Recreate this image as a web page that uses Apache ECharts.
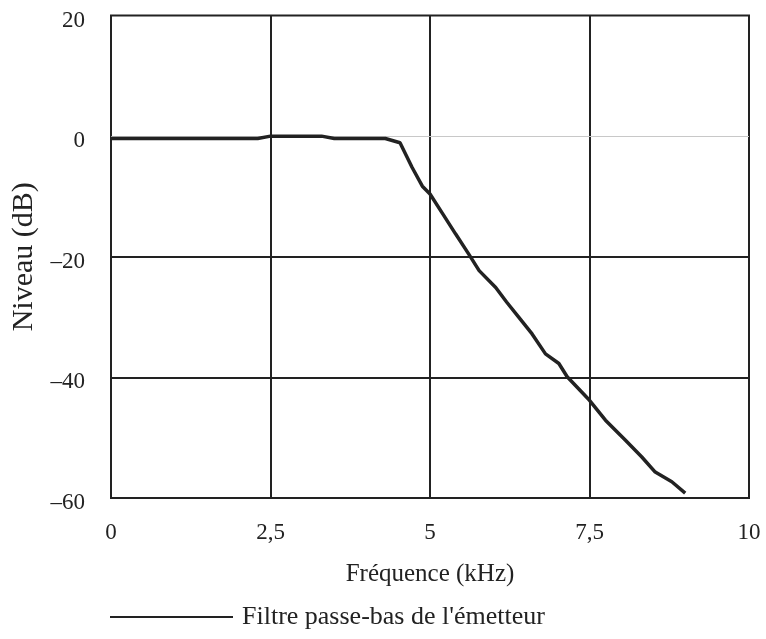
<!DOCTYPE html>
<html><head><meta charset="utf-8">
<script src="https://cdn.jsdelivr.net/npm/echarts@6/dist/echarts.min.js"></script>
<style>html,body{margin:0;padding:0;background:#fff}#c{width:766px;height:639px}</style>
</head><body><div id="c"></div>
<script>
const freq = [0, 2.3, 2.5, 3.3, 3.5, 4.3, 4.53, 4.72, 4.88, 5.0, 5.2, 5.4, 5.61, 5.77, 6.03, 6.2, 6.39, 6.6, 6.81, 7.02, 7.15, 7.5, 7.75, 8.06, 8.32, 8.53, 8.79, 9.0];
const level = [-0.4, -0.4, 0, 0, -0.4, -0.4, -1.1, -5.2, -8.3, -9.6, -12.9, -16.2, -19.6, -22.3, -25.1, -27.5, -30.0, -32.8, -36.1, -37.7, -39.9, -43.8, -47.1, -50.4, -53.2, -55.7, -57.3, -59.2];
const xTicks = ['0', '2,5', '5', '7,5', '10'];
const yTickLabels = {'20': '20', '0': '0', '-20': '–20', '-40': '–40', '-60': '–60'};
const darkLines = [-20, -40];
const grayLines = [0];
const seriesName = "Filtre passe-bas de l'émetteur";

const font = 'Liberation Serif';
const chart = echarts.init(document.getElementById('c'));
chart.setOption({
  animation: false,
  grid: {left: 111, right: 17, top: 15.5, bottom: 141, show: true, borderColor: '#222', borderWidth: 2, backgroundColor: 'transparent'},
  xAxis: {
    type: 'value', min: 0, max: 10, interval: 2.5,
    name: 'Fréquence (kHz)', nameLocation: 'middle', nameGap: 64,
    nameTextStyle: {fontFamily: font, fontSize: 25, color: '#222'},
    axisLine: {show: false}, axisTick: {show: false},
    axisLabel: {margin: 23, fontFamily: font, fontSize: 23, color: '#222',
      formatter: v => xTicks[Math.round(v / 2.5)]},
    splitLine: {show: true, lineStyle: {color: '#222', width: 2}}
  },
  yAxis: {
    type: 'value', min: -60, max: 20, interval: 20,
    name: 'Niveau (dB)', nameLocation: 'middle', nameGap: 68,
    nameTextStyle: {fontFamily: font, fontSize: 30, color: '#222'},
    axisLine: {show: false}, axisTick: {show: false},
    axisLabel: {margin: 26, fontFamily: font, fontSize: 23, color: '#222', verticalAlign: 'top', lineHeight: 10,
      formatter: v => yTickLabels[String(v)]},
    splitLine: {show: false}
  },
  legend: {
    left: 110, top: 604, padding: 0, itemWidth: 123, itemHeight: 14, icon: 'path://M0,0 L123,0 L123,2 L0,2 Z',
    data: [seriesName],
    textStyle: {fontFamily: font, fontSize: 26, color: '#222', padding: [0, 0, 0, 4]}
  },
  series: [
    {
      type: 'line', name: 'grid', silent: true, data: [], legendHoverLink: false,
      markLine: {silent: true, symbol: 'none', label: {show: false},
        data: darkLines.map(v => ({yAxis: v, lineStyle: {color: '#222', width: 2, type: 'solid'}}))
          .concat(grayLines.map(v => ({yAxis: v, lineStyle: {color: '#c8c8c8', width: 1, type: 'solid'}})))}
    },
    {
      type: 'line', name: seriesName, symbol: 'none', showSymbol: false,
      data: freq.map((f, i) => [f, level[i]]),
      lineStyle: {color: '#222', width: 3.5},
      itemStyle: {color: '#222'}, z: 5
    }
  ]
});
</script></body></html>
